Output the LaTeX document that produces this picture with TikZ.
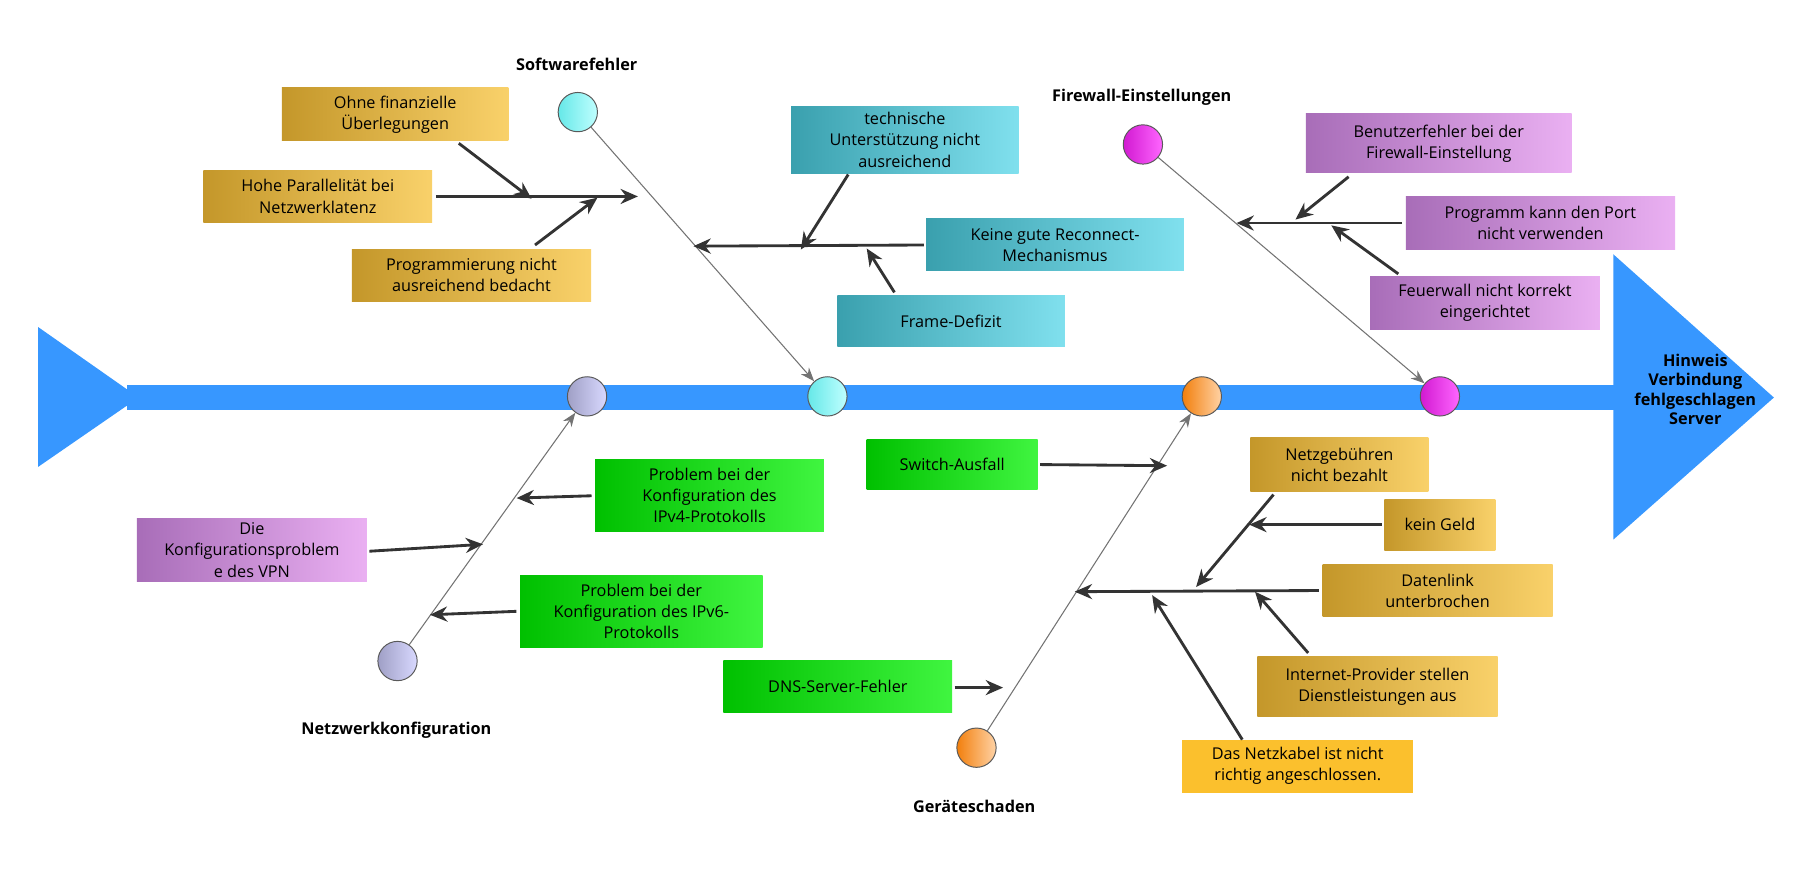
\documentclass[tikz,border=0pt]{standalone}
\usepackage{fontspec}
\setmainfont{Open Sans}
\usetikzlibrary{arrows.meta}
\definecolor{spine}{HTML}{3797FF}
\definecolor{goldA}{HTML}{C4972A}\definecolor{goldB}{HTML}{F9D16A}
\definecolor{tealA}{HTML}{3AA0AE}\definecolor{tealB}{HTML}{80E0EE}
\definecolor{purA}{HTML}{A86DB8}\definecolor{purB}{HTML}{EAB0F2}
\definecolor{grnA}{HTML}{00C000}\definecolor{grnB}{HTML}{40F540}
\definecolor{yel}{HTML}{FBC02D}
\definecolor{arr}{HTML}{333333}
\tikzset{
 box/.style={inner sep=0pt,align=center,font=\fontsize{20}{26}\selectfont,text=black},
 gold/.style={box,left color=goldA,right color=goldB},
 teal/.style={box,left color=tealA,right color=tealB},
 pur/.style={box,left color=purA,right color=purB},
 grn/.style={box,left color=grnA,right color=grnB},
 ybox/.style={box,fill=yel},
 dot/.style={circle,minimum size=1.7cm,inner sep=0pt,draw=black!65,line width=1.2pt},
 title/.style={font=\bfseries\fontsize{20}{24}\selectfont},
 bone/.style={draw=black!55,line width=1.3pt,-{Stealth[length=0.6cm,width=0.45cm]}},
 cause/.style={draw=arr,line width=3.5pt,-{Stealth[length=0.75cm,width=0.65cm]}},
 twig/.style={draw=arr,line width=3.5pt},
}
\begin{document}
\begin{tikzpicture}[x=0.05cm,y=-0.05cm]
\useasboundingbox (0,0) rectangle (1568,755);
% spine
\fill[spine] (110,333) rectangle (1400,355);
\fill[spine] (33,283) -- (120,344) -- (33,404) -- cycle;
\fill[spine] (1396,220) -- (1535,344) -- (1396,467) -- cycle;
\node[title,align=center,font=\bfseries\fontsize{20}{24}\selectfont] (head) at (1467,337) {Hinweis\\Verbindung\\fehlgeschlagen\\Server};
% circles
\node[dot,left color=cyan!70!teal!60,right color=cyan!25] (swT) at (500,97) {};
\node[dot,left color=cyan!70!teal!60,right color=cyan!25] (swS) at (716,343) {};
\node[dot,left color=blue!25!gray!60,right color=blue!15] (nkS) at (508,343) {};
\node[dot,left color=blue!25!gray!60,right color=blue!15] (nkB) at (344,572) {};
\node[dot,left color=orange!80!brown,right color=orange!35] (geS) at (1040,343) {};
\node[dot,left color=orange!80!brown,right color=orange!35] (geB) at (845,647) {};
\node[dot,left color=magenta!80!black!90,right color=magenta!60] (fwT) at (989,125) {};
\node[dot,left color=magenta!80!black!90,right color=magenta!60] (fwS) at (1246,343) {};
\node[title] (tSw) at (499,56) {Softwarefehler};
\node[title] (tNk) at (343,632) {Netzwerkkonfiguration};
\node[title] (tGe) at (843,698) {Geräteschaden};
\node[title] (tFw) at (988,84) {Firewall-Einstellungen};
\draw[bone] (swT) -- (swS);
\draw[bone] (nkB) -- (nkS);
\draw[bone] (geB) -- (geS);
\draw[bone] (fwT) -- (fwS);
% software causes
\node[gold,minimum width=9.8cm,minimum height=2.3cm] (b1) at (342,99) {Ohne finanzielle\\Überlegungen};
\node[gold,minimum width=9.9cm,minimum height=2.25cm] (b2) at (275,170) {Hohe Parallelität bei\\Netzwerklatenz};
\node[gold,minimum width=10.35cm,minimum height=2.25cm] (b3) at (408,238) {Programmierung nicht\\ausreichend bedacht};
\coordinate (s1) at (552,170);\coordinate (s1a) at (460,172);\coordinate (s1b) at (517,171);
\draw[cause] (b2.east) ++(3,0) -- (s1);
\draw[cause] (397,124) -- (s1a);
\draw[cause] (463,212) -- (s1b);
\node[teal,minimum width=9.85cm,minimum height=2.9cm] (t1) at (783,121) {technische\\Unterstützung nicht\\ausreichend};
\node[teal,minimum width=11.15cm,minimum height=2.25cm] (t2) at (913,212) {Keine gute Reconnect-\\Mechanismus};
\node[teal,minimum width=9.85cm,minimum height=2.2cm] (t3) at (823,278) {Frame-Defizit};
\coordinate (s2) at (600,213);\coordinate (s2a) at (693,216);\coordinate (s2b) at (750,215);
\draw[cause] (t2.west) ++(-2,0) -- (s2);
\draw[cause] (734,151) -- (s2a);
\draw[cause] (774,253) -- (s2b);
% firewall causes
\node[pur,minimum width=11.5cm,minimum height=2.55cm] (p1) at (1245,124) {Benutzerfehler bei der\\Firewall-Einstellung};
\node[pur,minimum width=11.65cm,minimum height=2.3cm] (p2) at (1333,193) {Programm kann den Port\\nicht verwenden};
\node[pur,minimum width=9.95cm,minimum height=2.3cm] (p3) at (1285,262) {Feuerwall nicht korrekt\\eingerichtet};
\coordinate (s3) at (1070,193);\coordinate (s3a) at (1121,190);\coordinate (s3b) at (1152,195);
\draw[cause] (p2.west) ++(-3,0) -- (s3);
\draw[cause] (1167,153) -- (s3a);
\draw[cause] (1210,237) -- (s3b);
% network causes
\node[grn,minimum width=9.9cm,minimum height=3.1cm] (n1) at (614,429) {Problem bei der\\Konfiguration des\\IPv4-Protokolls};
\node[pur,minimum width=9.95cm,minimum height=2.75cm] (n2) at (218,476) {Die\\Konfigurationsproblem\\e des VPN};
\node[grn,minimum width=10.5cm,minimum height=3.1cm] (n3) at (555,529) {Problem bei der\\Konfiguration des IPv6-\\Protokolls};
\coordinate (s4a) at (447,431);\coordinate (s4b) at (418,471);\coordinate (s4c) at (372,532);
\draw[cause] (n1.west) ++(-3,0) -- (s4a);
\draw[cause] (n2.east) ++(2,1) -- (s4b);
\draw[cause] (n3.west) ++(-3,0) -- (s4c);
% device causes
\node[grn,minimum width=7.4cm,minimum height=2.2cm] (d1) at (824,402) {Switch-Ausfall};
\node[grn,minimum width=9.9cm,minimum height=2.25cm] (d2) at (725,594) {DNS-Server-Fehler};
\coordinate (s5a) at (1010,403);\coordinate (s5b) at (868,595);
\draw[cause] (d1.east) ++(2,0) -- (s5a);
\draw[cause] (d2.east) ++(2,1) -- (s5b);
\node[gold,minimum width=7.7cm,minimum height=2.3cm] (y1) at (1159,402) {Netzgebühren\\nicht bezahlt};
\node[gold,minimum width=4.8cm,minimum height=2.2cm] (y2) at (1246,454) {kein Geld};
\node[gold,minimum width=9.95cm,minimum height=2.25cm] (y3) at (1244,511) {Datenlink\\unterbrochen};
\node[gold,minimum width=10.4cm,minimum height=2.6cm] (y4) at (1192,594) {Internet-Provider stellen\\Dienstleistungen aus};
\node[ybox,minimum width=10cm,minimum height=2.3cm] (y5) at (1123,663) {Das Netzkabel ist nicht\\richtig angeschlossen.};
\coordinate (s6) at (930,512);\coordinate (s6a) at (1035,508);\coordinate (s6b) at (1081,454);
\coordinate (s6c) at (1086,512);\coordinate (s6d) at (997,515);
\draw[cause] (y3.west) ++(-3,0) -- (s6);
\draw[cause] (1102,428) -- (s6a);
\draw[cause] (y2.west) ++(-2,0) -- (s6b);
\draw[cause] (1132,565) -- (s6c);
\draw[cause] (1075,640) -- (s6d);
\end{tikzpicture}
\end{document}
